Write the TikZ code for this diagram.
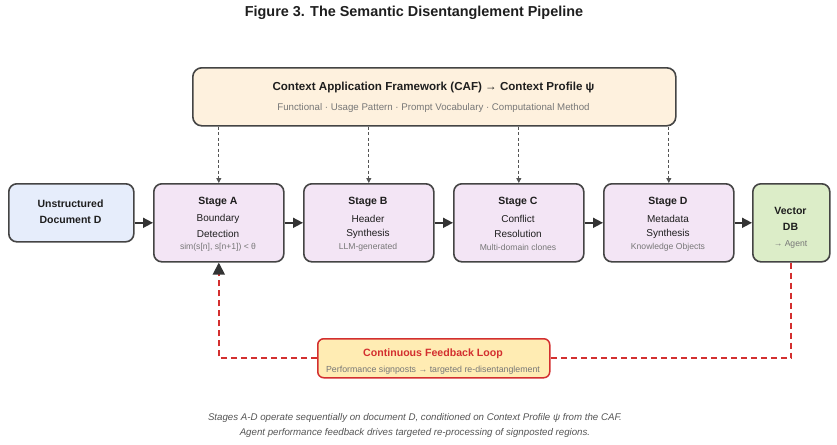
\documentclass[tikz,border=0pt]{standalone}
\usepackage{fontspec}
\setmainfont{Liberation Sans}
\usetikzlibrary{arrows.meta}
\definecolor{ink}{HTML}{1E1E1E}
\definecolor{boxline}{HTML}{444444}
\definecolor{subgray}{HTML}{777777}
\definecolor{capgray}{HTML}{555555}
\definecolor{arrowc}{HTML}{333333}
\definecolor{ctxgray}{HTML}{555555}
\definecolor{cafbg}{HTML}{FEF1DE}
\definecolor{stagebg}{HTML}{F3E5F5}
\definecolor{docbg}{HTML}{E6EDFB}
\definecolor{vdbbg}{HTML}{DCEDC8}
\definecolor{fbbg}{HTML}{FFECB3}
\definecolor{fbred}{HTML}{D32F2F}
\tikzset{
  box/.style={draw=boxline, line width=1.6pt, rounded corners=8pt, inner sep=0pt, anchor=north west},
  stagebox/.style={box, fill=stagebg, minimum width=130pt, minimum height=78pt},
  txt/.style={inner sep=0pt, text=ink, font=\fontsize{10}{12}\selectfont},
  ttl/.style={inner sep=0pt, text=ink, font=\bfseries\fontsize{10.5}{12}\selectfont},
  subt/.style={inner sep=0pt, text=subgray, font=\fontsize{8.6}{10}\selectfont},
  flow/.style={draw=arrowc, line width=1.6pt, -{Triangle[length=10pt,width=10pt]}},
  ctx/.style={draw=ctxgray, line width=0.8pt, dash pattern=on 3pt off 2.5pt, -{Triangle[length=5pt,width=5pt]}},
  fbline/.style={draw=fbred, line width=1.8pt, dash pattern=on 6pt off 4pt}
}
\begin{document}
\begin{tikzpicture}[x=1pt,y=-1pt]
\useasboundingbox (0,0) rectangle (837,444);
\fill[white] (0,0) rectangle (837,444);

% title
\node[inner sep=0pt, text=ink, font=\bfseries\fontsize{14.4}{16}\selectfont] (title) at (414,13) {Figure 3. The Semantic Disentanglement Pipeline};

% CAF
\node[box, fill=cafbg, minimum width=483pt, minimum height=58pt, rounded corners=9pt] (caf) at (192,67) {};
\node[inner sep=0pt, text=ink, font=\bfseries\fontsize{11.6}{13}\selectfont] (cafT) at (433.5,88) {Context Application Framework (CAF) → Context Profile ψ};
\node[inner sep=0pt, text=subgray, font=\fontsize{9.7}{11}\selectfont] (cafS) at (433.5,107.5) {Functional · Usage Pattern · Prompt Vocabulary · Computational Method};

% document
\node[box, fill=docbg, minimum width=125pt, minimum height=58pt] (doc) at (8,183) {};
\node[ttl] (docT1) at (70.5,204) {Unstructured};
\node[ttl] (docT2) at (70.5,220) {Document D};

% stages
\node[stagebox] (sA) at (153,183) {};
\node[stagebox] (sB) at (303,183) {};
\node[stagebox] (sC) at (453,183) {};
\node[stagebox] (sD) at (603,183) {};

\node[ttl] (aT) at (218,202) {Stage A};
\node[txt] (aL1) at (218,219) {Boundary};
\node[txt] (aL2) at (218,233.5) {Detection};
\node[subt] (aS) at (218,247.5) {sim(s[n], s[n+1]) < θ};

\node[ttl] (bT) at (368,202) {Stage B};
\node[txt] (bL1) at (368,219) {Header};
\node[txt] (bL2) at (368,233.5) {Synthesis};
\node[subt] (bS) at (368,247.5) {LLM-generated};

\node[ttl] (cT) at (518,202) {Stage C};
\node[txt] (cL1) at (518,219) {Conflict};
\node[txt] (cL2) at (518,233.5) {Resolution};
\node[subt] (cS) at (518,247.5) {Multi-domain clones};

\node[ttl] (dT) at (668,202) {Stage D};
\node[txt] (dL1) at (668,219) {Metadata};
\node[txt] (dL2) at (668,233.5) {Synthesis};
\node[subt] (dS) at (668,247.5) {Knowledge Objects};

% vector db
\node[box, fill=vdbbg, minimum width=77pt, minimum height=78pt] (vdb) at (752,183) {};
\node[ttl] (vT1) at (790.5,211) {Vector};
\node[ttl] (vT2) at (790.5,227) {DB};
\node[subt] (vS) at (790.5,244) {→ Agent};

% flow arrows
\draw[flow] (doc.east |- sA.west) -- (sA.west);
\draw[flow] (sA.east) -- (sB.west);
\draw[flow] (sB.east) -- (sC.west);
\draw[flow] (sC.east) -- (sD.west);
\draw[flow] (sD.east) -- (vdb.west);

% context arrows
\draw[ctx] (caf.south -| sA.north) -- (sA.north);
\draw[ctx] (caf.south -| sB.north) -- (sB.north);
\draw[ctx] (caf.south -| sC.north) -- (sC.north);
\draw[ctx] (caf.south -| sD.north) -- (sD.north);

% feedback loop
\node[box, draw=fbred, fill=fbbg, line width=1.5pt, rounded corners=6pt, minimum width=232pt, minimum height=39pt] (fb) at (317,338) {};
\node[inner sep=0pt, text=fbred, font=\bfseries\fontsize{10.6}{12}\selectfont] (fbT) at (433,354) {Continuous Feedback Loop};
\node[subt, font=\fontsize{8.8}{10}\selectfont] (fbS) at (433,370) {Performance signposts → targeted re-disentanglement};

\draw[fbline] (vdb.south) -- (vdb.south |- fb.east) -- (fb.east);
\draw[fbline, -{Triangle[length=12pt,width=12pt,color=arrowc]}] (fb.west) -- (sA.south |- fb.west) -- (sA.south);

% caption
\node[inner sep=0pt, text=capgray, font=\itshape\fontsize{9.7}{11}\selectfont] (cap1) at (415,418) {Stages A-D operate sequentially on document D, conditioned on Context Profile ψ from the CAF.};
\node[inner sep=0pt, text=capgray, font=\itshape\fontsize{9.7}{11}\selectfont] (cap2) at (415,433) {Agent performance feedback drives targeted re-processing of signposted regions.};
\end{tikzpicture}
\end{document}
